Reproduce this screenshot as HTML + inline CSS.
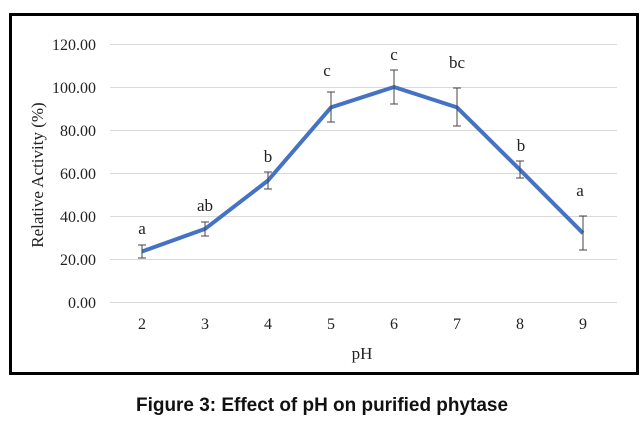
<!DOCTYPE html>
<html><head><style>body{margin:0;background:#fff;width:644px;height:427px;overflow:hidden}</style></head><body>
<svg width="644" height="427" xmlns="http://www.w3.org/2000/svg" font-family="Liberation Serif, serif">
<rect x="10.5" y="14.5" width="627" height="359" fill="#fff" stroke="#000" stroke-width="3"/>
<g stroke="#d9d9d9" stroke-width="1">
<line x1="110" x2="617" y1="302.5" y2="302.5"/><line x1="110" x2="617" y1="259.5" y2="259.5"/>
<line x1="110" x2="617" y1="216.5" y2="216.5"/><line x1="110" x2="617" y1="173.5" y2="173.5"/>
<line x1="110" x2="617" y1="130.5" y2="130.5"/><line x1="110" x2="617" y1="87.5" y2="87.5"/>
<line x1="110" x2="617" y1="44.5" y2="44.5"/></g>
<g font-size="16" fill="#222" text-anchor="end">
<text x="96" y="308">0.00</text><text x="96" y="265">20.00</text><text x="96" y="222">40.00</text>
<text x="96" y="179">60.00</text><text x="96" y="136">80.00</text><text x="96" y="93">100.00</text><text x="96" y="50">120.00</text></g>
<g font-size="16" fill="#222" text-anchor="middle">
<text x="142" y="329">2</text><text x="205" y="329">3</text><text x="268" y="329">4</text><text x="331" y="329">5</text>
<text x="394" y="329">6</text><text x="457" y="329">7</text><text x="520" y="329">8</text><text x="583" y="329">9</text>
<text x="362" y="359" font-size="17">pH</text>
<text transform="translate(43,175) rotate(-90)" font-size="17">Relative Activity (%)</text></g>
<polyline fill="none" stroke="#4472c4" stroke-width="4" stroke-linejoin="round" points="142,251.5 205,228.9 268,180.5 331,107.4 394,87 457,107.4 520,169.8 583,233.2"/>
<g stroke="#444" stroke-width="1" fill="none">
<path d="M142,245v13M138,245h8M138,258h8"/>
<path d="M205,222v14M201,222h8M201,236h8"/>
<path d="M268,172v17M264,172h8M264,189h8"/>
<path d="M331,92v30M327,92h8M327,122h8"/>
<path d="M394,70v34M390,70h8M390,104h8"/>
<path d="M457,88v38M453,88h8M453,126h8"/>
<path d="M520,161v17M516,161h8M516,178h8"/>
<path d="M583,216v34M579,216h8M579,250h8"/></g>
<g font-size="17" fill="#222" text-anchor="middle">
<text x="142" y="234">a</text><text x="205" y="211">ab</text><text x="268" y="162">b</text>
<text x="327" y="76">c</text><text x="394" y="60">c</text><text x="457" y="68">bc</text>
<text x="521" y="151">b</text><text x="580" y="196">a</text></g>
<text x="322" y="411" text-anchor="middle" font-family="Liberation Sans, sans-serif" font-weight="bold" font-size="19" fill="#111" textLength="372" lengthAdjust="spacingAndGlyphs">Figure 3: Effect of pH on purified phytase</text>
</svg></body></html>
